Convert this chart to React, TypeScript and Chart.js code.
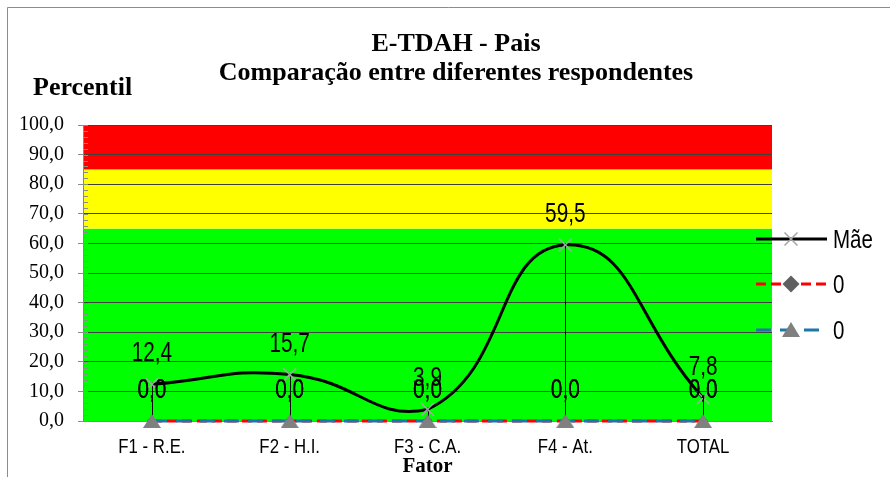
import React, { useEffect, useRef } from 'react';
import { Chart, registerables } from 'chart.js';

Chart.register(...registerables);

// ---- data ----
const categories = ['F1 - R.E.', 'F2 - H.I.', 'F3 - C.A.', 'F4 - At.', 'TOTAL'];
const maeValues = [12.4, 15.7, 3.9, 59.5, 7.8];
const resp2Values = [0, 0, 0, 0, 0];
const resp3Values = [0, 0, 0, 0, 0];
const seriesNames = ['Mãe', '0', '0'];
const bandLimits = [0, 65, 85, 100];
const bandColors = ['#00FF00', '#FFFF00', '#FF0000'];
const titleLines = ['E-TDAH - Pais', 'Comparação entre diferentes respondentes'];
const yAxisTitle = 'Percentil';
const xAxisTitle = 'Fator';
const yMin = 0;
const yMax = 100;
const yStep = 10;
const yMinorStep = 2;

const SANS = '"Liberation Sans", Arial, sans-serif';
const SERIF = '"Liberation Serif", "Times New Roman", serif';
const RED = '#FF0000';
const BLUE = '#1F77A8';
const CROSS_GRAY = '#A6A6A6';
const DIAMOND_GRAY = '#5F5F5F';
const TRI_GRAY = '#808080';
const RED_DASH = [10, 5];
const BLUE_DASH = [15, 9];

function fmt(v: number) {
  return v.toFixed(1).replace('.', ',');
}

function makeTriangle(w: number, h: number, color: string) {
  const c = document.createElement('canvas');
  c.width = w;
  c.height = h;
  const g = c.getContext('2d')!;
  g.fillStyle = color;
  g.beginPath();
  g.moveTo(w / 2, 0);
  g.lineTo(w, h);
  g.lineTo(0, h);
  g.closePath();
  g.fill();
  return c;
}

function condensedText(
  ctx: CanvasRenderingContext2D,
  text: string,
  x: number,
  y: number,
  size: number,
  scaleX: number,
  align: CanvasTextAlign = 'center'
) {
  ctx.save();
  ctx.font = `${size}px ${SANS}`;
  ctx.textBaseline = 'alphabetic';
  ctx.textAlign = align;
  ctx.fillStyle = '#000';
  ctx.translate(x, y);
  ctx.scale(scaleX, 1);
  ctx.fillText(text, 0, 0);
  ctx.restore();
}

const decorPlugin = {
  id: 'decor',
  beforeDraw(chart: any) {
    const { ctx, chartArea: a, scales } = chart;
    const y = scales.y;
    ctx.save();
    ctx.fillStyle = '#FFFFFF';
    ctx.fillRect(0, 0, chart.width, chart.height);
    for (let i = 0; i < bandColors.length; i++) {
      const top = y.getPixelForValue(bandLimits[i + 1]);
      const bot = y.getPixelForValue(bandLimits[i]);
      ctx.fillStyle = bandColors[i];
      ctx.fillRect(a.left, top, a.right - a.left, bot - top);
    }
    // outer frame (top + left)
    ctx.strokeStyle = '#8C8C8C';
    ctx.lineWidth = 1;
    ctx.beginPath();
    ctx.moveTo(7.5, chart.height);
    ctx.lineTo(7.5, 7.5);
    ctx.lineTo(chart.width, 7.5);
    ctx.stroke();
    ctx.restore();
  },
  beforeDatasetsDraw(chart: any) {
    const { ctx, chartArea: a, scales } = chart;
    const y = scales.y;
    ctx.save();
    // minor ticks inside the axis
    ctx.strokeStyle = '#8C8C8C';
    ctx.lineWidth = 1;
    ctx.beginPath();
    for (let v = yMin; v <= yMax; v += yMinorStep) {
      const py = Math.round(y.getPixelForValue(v)) + 0.5;
      ctx.moveTo(a.left, py);
      ctx.lineTo(a.left + 5, py);
    }
    ctx.stroke();
    // drop lines
    const base = y.getPixelForValue(0);
    ctx.strokeStyle = '#000';
    ctx.lineWidth = 1;
    const meta = chart.getDatasetMeta(0);
    meta.data.forEach((pt: any) => {
      const px = Math.round(pt.x) + 0.5;
      ctx.beginPath();
      ctx.moveTo(px, pt.y);
      ctx.lineTo(px, base);
      ctx.stroke();
    });
    ctx.restore();
  },
  afterDatasetsDraw(chart: any) {
    const { ctx } = chart;
    [2, 1, 0].forEach((di) => {
      const meta = chart.getDatasetMeta(di);
      const vals = chart.data.datasets[di].data as number[];
      meta.data.forEach((pt: any, i: number) => {
        condensedText(ctx, fmt(vals[i]), pt.x, pt.y - 23, 27, 0.77);
      });
    });
  },
  afterDraw(chart: any) {
    const { ctx, chartArea: a, scales } = chart;
    const x = scales.x;
    ctx.save();
    // titles
    ctx.fillStyle = '#000';
    ctx.font = `bold 26px ${SERIF}`;
    ctx.textAlign = 'center';
    ctx.textBaseline = 'alphabetic';
    ctx.fillText(titleLines[0], 456, 51);
    ctx.fillText(titleLines[1], 456, 80);
    ctx.textAlign = 'left';
    ctx.fillText(yAxisTitle, 33, 95);
    ctx.font = `bold 21px ${SERIF}`;
    ctx.textAlign = 'center';
    ctx.fillText(xAxisTitle, (a.left + a.right) / 2, 472);
    ctx.restore();

    // category labels
    categories.forEach((c, i) => {
      condensedText(ctx, c, x.getPixelForValue(i), 453, 21, 0.8);
    });

    // legend
    const rows = [239, 284, 330];
    const lx0 = 756;
    const lx1 = 827;
    const mx = 791;
    ctx.save();
    // row 1
    ctx.strokeStyle = '#000';
    ctx.lineWidth = 3;
    ctx.beginPath();
    ctx.moveTo(lx0, rows[0]);
    ctx.lineTo(lx1, rows[0]);
    ctx.stroke();
    ctx.strokeStyle = CROSS_GRAY;
    ctx.lineWidth = 1.5;
    ctx.beginPath();
    ctx.moveTo(mx - 6.5, rows[0] - 6.5);
    ctx.lineTo(mx + 6.5, rows[0] + 6.5);
    ctx.moveTo(mx + 6.5, rows[0] - 6.5);
    ctx.lineTo(mx - 6.5, rows[0] + 6.5);
    ctx.stroke();
    // row 2
    ctx.strokeStyle = RED;
    ctx.lineWidth = 3;
    ctx.setLineDash(RED_DASH);
    ctx.beginPath();
    ctx.moveTo(lx0, rows[1]);
    ctx.lineTo(lx1, rows[1]);
    ctx.stroke();
    ctx.setLineDash([]);
    ctx.fillStyle = DIAMOND_GRAY;
    ctx.beginPath();
    ctx.moveTo(mx - 8.5, rows[1]);
    ctx.lineTo(mx, rows[1] - 8.5);
    ctx.lineTo(mx + 8.5, rows[1]);
    ctx.lineTo(mx, rows[1] + 8.5);
    ctx.closePath();
    ctx.fill();
    // row 3
    ctx.strokeStyle = BLUE;
    ctx.lineWidth = 3;
    ctx.setLineDash(BLUE_DASH);
    ctx.beginPath();
    ctx.moveTo(lx0, rows[2]);
    ctx.lineTo(lx1, rows[2]);
    ctx.stroke();
    ctx.setLineDash([]);
    ctx.fillStyle = TRI_GRAY;
    ctx.beginPath();
    ctx.moveTo(mx, rows[2] - 8);
    ctx.lineTo(mx + 9, rows[2] + 7);
    ctx.lineTo(mx - 9, rows[2] + 7);
    ctx.closePath();
    ctx.fill();
    ctx.restore();
    seriesNames.forEach((n, i) => {
      condensedText(ctx, n, 833, rows[i] + 9, 25, 0.82, 'left');
    });
  },
};

export default function App() {
  const ref = useRef<HTMLCanvasElement | null>(null);

  useEffect(() => {
    if (!ref.current) return;
    const triangle = makeTriangle(18, 14, TRI_GRAY);
    const chart = new Chart(ref.current, {
      type: 'line',
      data: {
        labels: categories,
        datasets: [
          {
            label: seriesNames[0],
            data: maeValues,
            borderColor: '#000',
            borderWidth: 3,
            tension: 0.5,
            pointStyle: 'crossRot',
            pointRadius: 9,
            pointBorderColor: CROSS_GRAY,
            pointBorderWidth: 1.5,
            pointBackgroundColor: CROSS_GRAY,
            fill: false,
            clip: false as any,
            order: 1,
          },
          {
            label: seriesNames[1],
            data: resp2Values,
            borderColor: RED,
            borderWidth: 3,
            borderDash: RED_DASH,
            pointStyle: 'rectRot',
            pointRadius: 5,
            pointBackgroundColor: DIAMOND_GRAY,
            pointBorderColor: DIAMOND_GRAY,
            pointBorderWidth: 0,
            fill: false,
            clip: false as any,
            order: 2,
          },
          {
            label: seriesNames[2],
            data: resp3Values,
            borderColor: BLUE,
            borderWidth: 3,
            borderDash: BLUE_DASH,
            pointStyle: triangle as any,
            pointRadius: 9,
            pointBackgroundColor: TRI_GRAY,
            pointBorderColor: TRI_GRAY,
            fill: false,
            clip: false as any,
            order: 0,
          },
        ],
      },
      options: {
        animation: false,
        responsive: false,
        devicePixelRatio: 1,
        events: [],
        layout: { padding: { left: 0, right: 118, top: 125, bottom: 56 } },
        plugins: {
          legend: { display: false },
          title: { display: false },
          tooltip: { enabled: false },
        },
        scales: {
          x: {
            type: 'category',
            offset: true,
            grid: { display: false },
            border: { display: true, color: '#868686', width: 1 },
            ticks: { display: false },
            afterFit: (s: any) => {
              s.height = 0;
            },
          },
          y: {
            min: yMin,
            max: yMax,
            grid: {
              color: '#404040',
              lineWidth: 1,
              tickLength: 5,
              tickColor: '#8C8C8C',
            },
            border: { display: true, color: '#868686', width: 1 },
            ticks: {
              stepSize: yStep,
              padding: 14,
              color: '#000',
              font: { family: SERIF, size: 20 },
              callback: (v: any) => fmt(Number(v)),
            },
            afterFit: (s: any) => {
              s.width = 83;
            },
          },
        },
      },
      plugins: [decorPlugin],
    });
    return () => chart.destroy();
  }, []);

  return (
    <div style={{ position: 'fixed', left: 0, top: 0, width: 890, height: 477, background: '#fff' }}>
      <canvas ref={ref} width={890} height={477} style={{ width: 890, height: 477, display: 'block' }} />
    </div>
  );
}
